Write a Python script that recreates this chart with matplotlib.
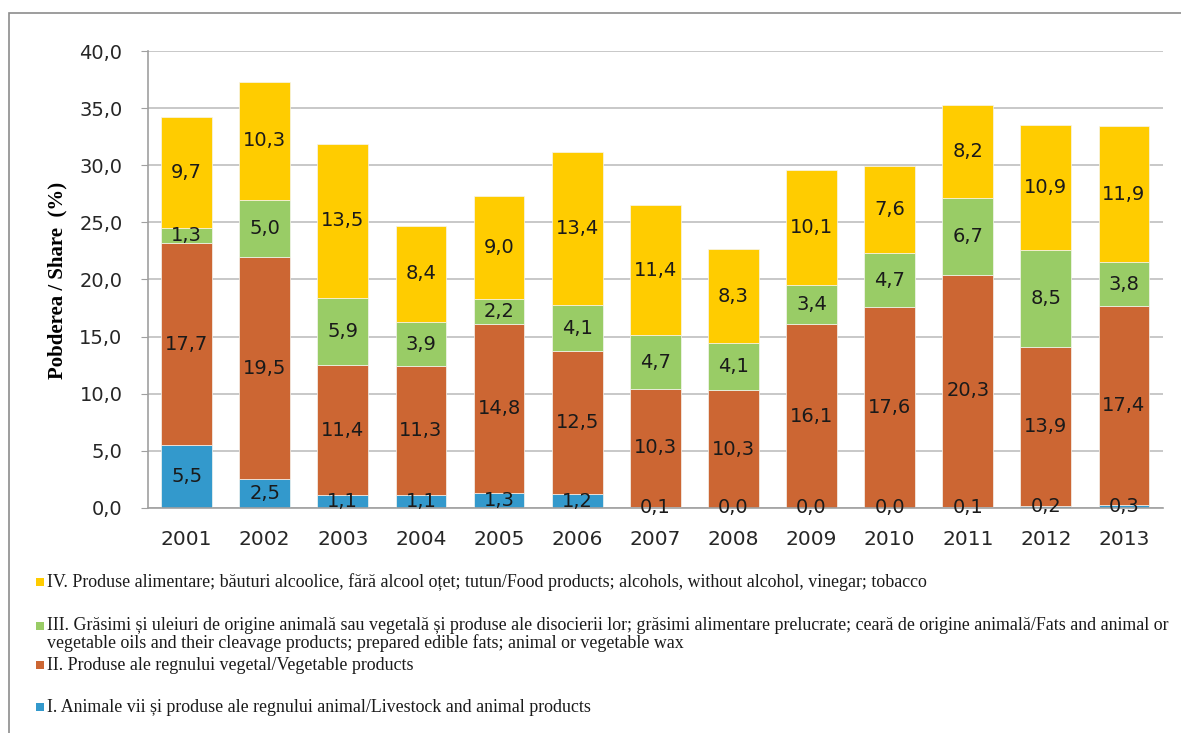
import matplotlib.pyplot as plt
import numpy as np
from matplotlib.patches import Rectangle

# Data
years = ['2001', '2002', '2003', '2004', '2005', '2006', '2007',
         '2008', '2009', '2010', '2011', '2012', '2013']
livestock = [5.5, 2.5, 1.1, 1.1, 1.3, 1.2, 0.1, 0.0, 0.0, 0.0, 0.1, 0.2, 0.3]
vegetable = [17.7, 19.5, 11.4, 11.3, 14.8, 12.5, 10.3, 10.3, 16.1, 17.6, 20.3, 13.9, 17.4]
fats = [1.3, 5.0, 5.9, 3.9, 2.2, 4.1, 4.7, 4.1, 3.4, 4.7, 6.7, 8.5, 3.8]
food = [9.7, 10.3, 13.5, 8.4, 9.0, 13.4, 11.4, 8.3, 10.1, 7.6, 8.2, 10.9, 11.9]

labels = [
    ['I. Animale vii și produse ale regnului animal/Livestock and animal products'],
    ['II. Produse ale regnului vegetal/Vegetable products'],
    ['III. Grăsimi și uleiuri de origine animală sau vegetală și produse ale disocierii lor; '
     'grăsimi alimentare prelucrate; ceară de origine animală/Fats and animal or',
     'vegetable oils and their cleavage products; prepared edible fats; animal or vegetable wax'],
    ['IV. Produse alimentare; băuturi alcoolice, fără alcool oțet; tutun/Food products; '
     'alcohols, without alcohol, vinegar; tobacco'],
]
colors = ['#3399CC', '#CC6633', '#99CC66', '#FFCC00']

series = [livestock, vegetable, fats, food]

fig = plt.figure(figsize=(11.81, 7.33), dpi=100)
ax = fig.add_axes([0.1249, 0.307, 0.8599, 0.6234])

x = np.arange(len(years))
bottom = np.zeros(len(years))
for vals, col in zip(series, colors):
    vals = np.array(vals)
    ax.bar(x, vals, width=0.65, bottom=bottom, color=col, edgecolor='#F5F5F0',
           linewidth=0.5, zorder=2)
    for xi, b, v in zip(x, bottom, vals):
        ax.text(xi, b + v / 2, f"{v:.1f}".replace('.', ','), ha='center', va='center',
                fontsize=14, color='#1a1a1a', zorder=3)
    bottom += vals

ax.set_xlim(-0.5, len(years) - 0.5)
ax.set_ylim(0, 40)
ax.set_yticks(np.arange(0, 40.1, 5))
ax.set_yticklabels([f"{t:.1f}".replace('.', ',') for t in np.arange(0, 40.1, 5)])
ax.set_xticks(x)
ax.set_xticklabels(years)
ax.tick_params(axis='both', labelcolor='#262626')
ax.tick_params(axis='x', length=0, pad=16, labelsize=14.5)
ax.tick_params(axis='y', length=5, color='#A0A0A0', pad=13, labelsize=14)
ax.yaxis.grid(True, color='#BFBFBF', linewidth=1.2, zorder=0)
ax.set_axisbelow(True)
for s in ['top', 'right']:
    ax.spines[s].set_visible(False)
for s in ['left', 'bottom']:
    ax.spines[s].set_color('#A0A0A0')
    ax.spines[s].set_linewidth(1.2)

fig.text(57 / 1181, 1 - 280 / 733, 'Pobderea / Share  (%)', rotation=90, ha='center',
         va='center', family='Liberation Serif', fontweight='bold', fontsize=15)

# Legend (manual, one entry per row, top-down IV..I)
leg_y = [582, 626, 665, 707]
for yy, lines, col in zip(leg_y, labels[::-1], colors[::-1]):
    fig.patches.append(Rectangle((36 / 1181, 1 - (yy + 4) / 733), 8 / 1181, 8 / 733,
                                 transform=fig.transFigure, facecolor=col,
                                 edgecolor='none'))
    for k, line in enumerate(lines):
        fig.text(47 / 1181, 1 - (yy + 17 * k) / 733, line,
                 ha='left', va='center', family='Liberation Serif', fontsize=12.9,
                 color='#1a1a1a')

# Outer chart border
fig.patches.append(Rectangle((9 / 1181, -0.1), 1.2, 1 - 13 / 733 + 0.1,
                             transform=fig.transFigure, facecolor='none',
                             edgecolor='#8C8C8C', linewidth=1.2))

fig.savefig('out.png', dpi=100, facecolor='white')
